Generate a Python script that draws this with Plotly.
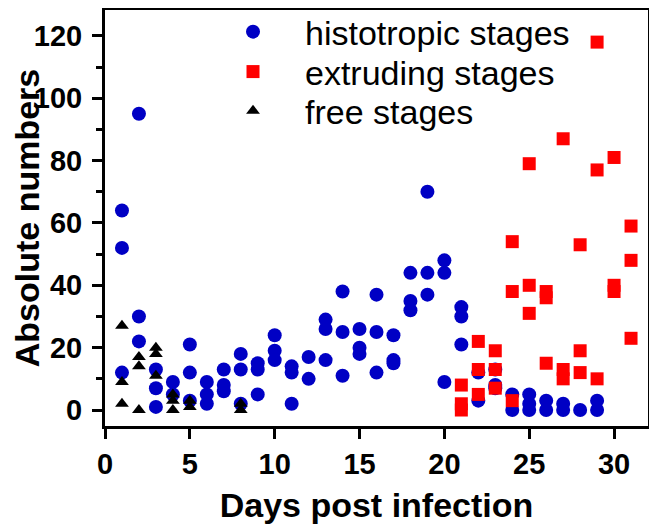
import plotly.graph_objects as go

# Histotropic stages
hist_days = [1, 1, 1, 2, 2, 2, 3, 3, 3, 4, 4, 5, 5, 5, 6, 6, 6, 7, 7, 7,
             8, 8, 8, 9, 9, 9, 10, 10, 10, 11, 11, 11, 12, 12, 13, 13, 13,
             14, 14, 14, 15, 15, 15, 16, 16, 16, 17, 17, 17, 18, 18, 18,
             19, 19, 19, 20, 20, 20, 21, 21, 21, 22, 22, 23, 23, 23, 24, 24,
             25, 25, 25, 26, 26, 27, 27, 28, 29, 29]
hist_vals = [64, 52, 12, 95, 30, 22, 13, 7, 1, 9, 5, 21, 12, 3, 9, 5, 2, 13, 8, 6,
             18, 13, 2, 15, 13, 5, 24, 19, 16, 14, 12, 2, 17, 10, 29, 26, 16,
             38, 25, 11, 26, 20, 18, 37, 25, 12, 24, 16, 15, 44, 35, 32,
             70, 44, 37, 48, 44, 9, 33, 30, 21, 12, 3, 13, 8, 7, 5, 0,
             5, 2, 0, 3, 0, 2, 0, 0, 3, 0]

# Extruding stages
ext_days = [21, 21, 21, 22, 22, 22, 23, 23, 23, 24, 24, 24, 25, 25, 25,
            26, 26, 26, 27, 27, 27, 28, 28, 28, 29, 29, 29, 30, 30, 30, 31, 31, 31]
ext_vals = [8, 2, 0, 22, 13, 5, 19, 13, 7, 54, 38, 3, 79, 40, 31,
            38, 36, 15, 87, 13, 10, 53, 19, 12, 118, 77, 10, 81, 40, 38, 59, 48, 23]

# Free stages
free_days = [1, 1, 1, 2, 2, 2, 3, 3, 3, 4, 4, 4, 5, 5, 8, 8]
free_vals = [27, 9, 2, 17, 14, 0, 20, 18, 11, 5, 3, 0, 3, 1, 2, 0]

x_ticks = [0, 5, 10, 15, 20, 25, 30]
y_ticks = [0, 20, 40, 60, 80, 100, 120]
y_minor = [10, 30, 50, 70, 90, 110]

FONT = "Arial, 'Liberation Sans', sans-serif"

fig = go.Figure()
fig.add_trace(go.Scatter(x=hist_days, y=hist_vals, mode="markers", name="histotropic stages",
                         legend="legend",
                         marker=dict(symbol="circle", size=14, color="#0000C4")))
fig.add_trace(go.Scatter(x=ext_days, y=ext_vals, mode="markers", name="extruding stages",
                         legend="legend2",
                         marker=dict(symbol="square", size=13, color="#FF0000")))
fig.add_trace(go.Scatter(x=free_days, y=free_vals, mode="markers", name="free stages",
                         legend="legend3",
                         marker=dict(symbol="triangle-up", size=12, color="#000000")))

leg_common = dict(x=0.1768, xanchor="left", yanchor="middle",
                  bgcolor="rgba(0,0,0,0)", font=dict(size=34, family=FONT, color="black"),
                  itemwidth=94)

# the page body adds an 8px margin, so the figure is sized to fill the rest of the window
fig.update_layout(
    width=649, height=520,
    margin=dict(l=97, r=9, t=2, b=102, autoexpand=False),
    paper_bgcolor="white", plot_bgcolor="white",
    font=dict(family=FONT, color="black"),
    showlegend=True,
    legend=dict(y=0.947, **leg_common),
    legend2=dict(y=0.851, **leg_common),
    legend3=dict(y=0.757, **leg_common),
)
fig.update_xaxes(
    range=[0, 32], tickvals=x_ticks, automargin=False,
    showgrid=False, zeroline=False, showline=True, linewidth=3, linecolor="black",
    mirror=True, ticks="outside", ticklen=10, tickwidth=3, tickcolor="black",
    tickfont=dict(size=29, weight="bold"),
    title=dict(text="Days post infection", font=dict(size=34, weight="bold"), standoff=15),
)
fig.update_yaxes(
    range=[-5.13, 128.3], tickvals=y_ticks, automargin=False,
    showgrid=False, zeroline=False, showline=True, linewidth=3, linecolor="black",
    mirror=True, ticks="outside", ticklen=10, tickwidth=3, tickcolor="black",
    ticklabelstandoff=4,
    minor=dict(tickvals=y_minor, ticks="outside", ticklen=6,
               tickwidth=3, tickcolor="black", showgrid=False),
    tickfont=dict(size=29, weight="bold"),
    title=dict(text="Absolute numbers", font=dict(size=34, weight="bold"), standoff=0),
)

fig.write_html("out.html")
